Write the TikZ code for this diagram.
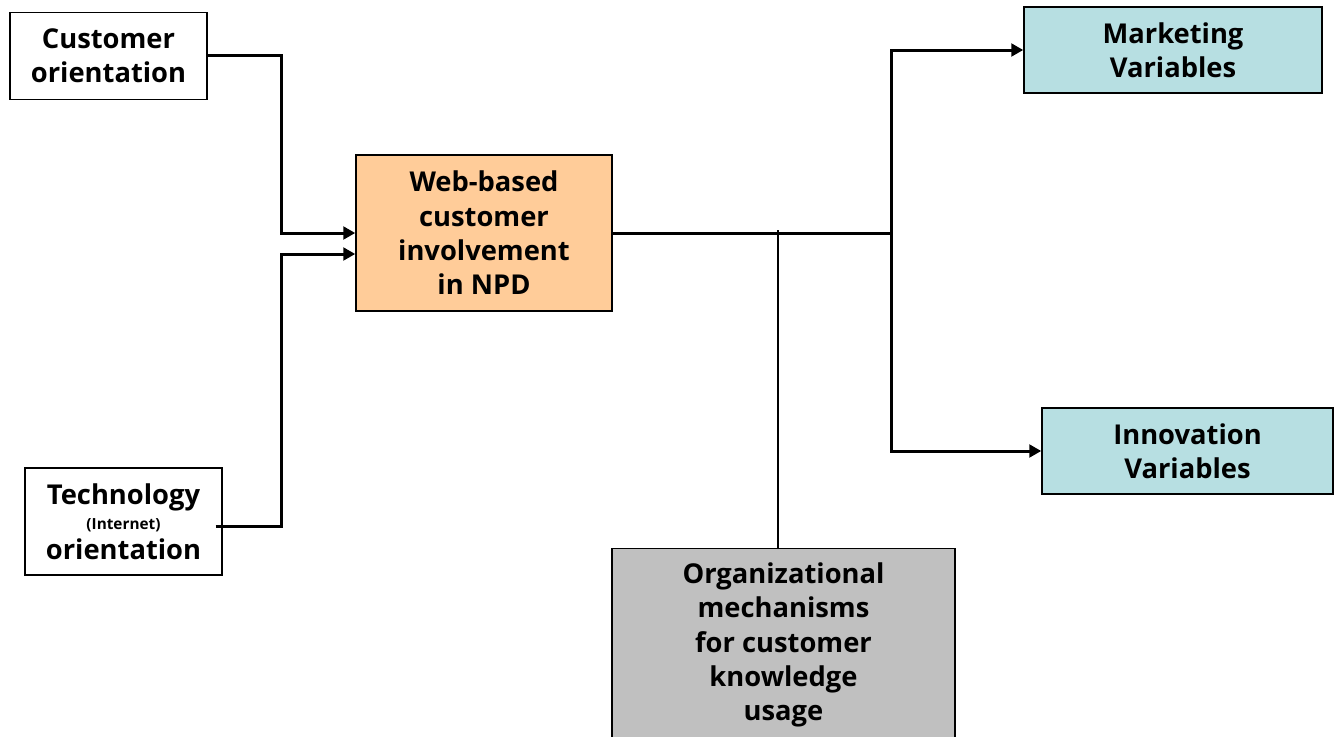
\documentclass[tikz,border=0pt]{standalone}
\usepackage{fontspec}
\setmainfont{Open Sans}[BoldFont={Open Sans Bold}]
\usetikzlibrary{arrows.meta,calc}
\definecolor{orangefill}{RGB}{255,204,153}
\definecolor{bluefill}{RGB}{183,223,226}
\definecolor{grayfill}{RGB}{192,192,192}
\begin{document}
\begin{tikzpicture}[x=0.75pt,y=-0.75pt,
  box/.style={draw=black,line width=1.1pt,align=center,inner sep=0pt,
    font=\fontsize{20.5}{25.8}\selectfont\bfseries},
  conn/.style={line width=2.25pt},
  arr/.style={line width=2.25pt,-{Triangle[length=9pt,width=9.5pt]}},
  thinline/.style={line width=1.1pt}]
\useasboundingbox (0,0) rectangle (1339,736);
\node[box,fill=white,minimum width=197*0.75pt,minimum height=87*0.75pt] (cust) at (108.5,56) {Customer\\orientation};
\node[box,fill=white,minimum width=197*0.75pt,minimum height=107*0.75pt] (tech) at (123.5,521.5) {Technology\\[-7pt]{\fontsize{11.5}{13}\selectfont (Internet)}\\[-3pt]orientation};
\node[box,fill=orangefill,minimum width=256*0.75pt,minimum height=156*0.75pt] (web) at (484,233) {Web-based\\customer\\involvement\\in NPD};
\node[box,fill=bluefill,minimum width=298*0.75pt,minimum height=86*0.75pt] (mkt) at (1173,50) {Marketing\\Variables};
\node[box,fill=bluefill,minimum width=291*0.75pt,minimum height=86*0.75pt] (inn) at (1187.5,451) {Innovation\\Variables};
\node[box,fill=grayfill,minimum width=343*0.75pt,minimum height=193*0.75pt] (org) at (783.5,645) {Organizational\\mechanisms\\for customer\\knowledge\\usage};
\coordinate (J) at (891,233);
\coordinate (T) at (778,230);
\draw[arr] ($(cust.east)+(0,-1)$) -- (281,55) |- (web.west);
\draw[arr] ($(tech.east)+(-7,4.5)$) -- (281,526) |- ($(web.west)+(0,21)$);
\draw[conn] (web.east) -- (J);
\draw[arr] (J) |- (mkt.west);
\draw[arr] (J) |- (inn.west);
\draw[thinline] (T) -- (T |- org.north);
\end{tikzpicture}
\end{document}
